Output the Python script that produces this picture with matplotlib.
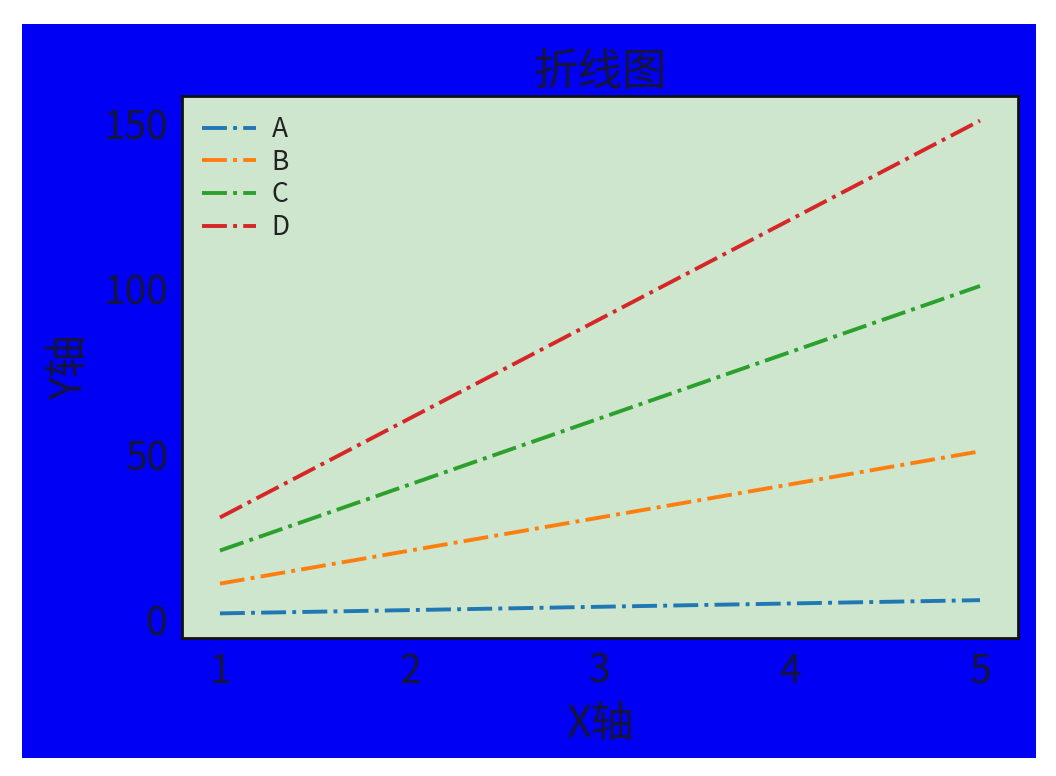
import numpy as np
import matplotlib.pyplot as plt
from matplotlib.patches import Rectangle

plt.rcParams['font.family'] = ['Noto Sans CJK SC', 'DejaVu Sans']

# 数据
x = [1, 2, 3, 4, 5]
a = [2, 3, 4, 5, 6]
b = [11, 21, 31, 41, 51]
c = [21, 41, 61, 81, 101]
d = [31, 61, 91, 121, 151]
labels = ['A', 'B', 'C', 'D']

fig = plt.figure(figsize=(10.56, 7.76), dpi=100, facecolor='white')
# 蓝色背景块（四周留白），zorder 放到坐标轴下面
fig.patches.append(Rectangle((22 / 1056, 18 / 776), 1014 / 1056, 734 / 776,
                             transform=fig.transFigure, facecolor='#0000f5',
                             edgecolor='none', zorder=-1))

ax = fig.add_axes([0.1723, 0.1778, 0.7917, 0.6985])
ax.set_facecolor('#cde6cd')

for y, lab in zip([a, b, c, d], labels):
    ax.plot(x, y, linestyle='-.', linewidth=2.8, label=lab)

txt = '#14143c'
ax.set_title('折线图', fontsize=32, color=txt, pad=8)
ax.set_xlabel('X轴', fontsize=31, color=txt, labelpad=8)
ax.set_ylabel('Y轴', fontsize=31, color=txt, labelpad=8)

ax.set_xticks(x)
ax.set_yticks([0, 50, 100, 150])
ax.tick_params(length=0, labelsize=28, labelcolor=txt, pad=10)

for s in ax.spines.values():
    s.set_linewidth(2)
    s.set_color('#111111')

leg = ax.legend(loc='upper left', frameon=False, fontsize=19,
                handlelength=2.05, handletextpad=0.59, labelspacing=0.22,
                borderaxespad=0.35)
for t in leg.get_texts():
    t.set_color('#222222')

fig.savefig('out.png', dpi=100, facecolor='white')
